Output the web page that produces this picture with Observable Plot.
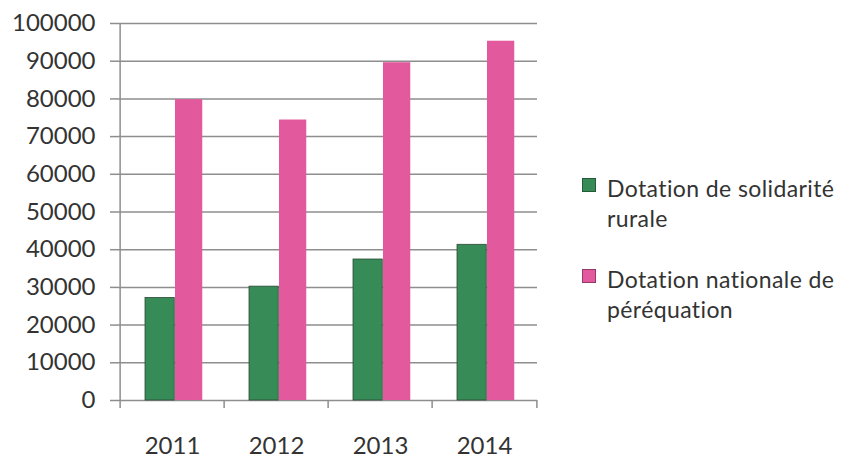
<!DOCTYPE html>
<html><head><meta charset="utf-8">
<script src="https://cdn.jsdelivr.net/npm/d3@7"></script>
<script src="https://cdn.jsdelivr.net/npm/@observablehq/plot@0.6"></script>
<style>
body{margin:0;background:#fff;}
#wrap{position:relative;width:847px;height:459px;font-family:Lato,sans-serif;color:#333;font-variant-ligatures:none;}
#wrap svg{position:absolute;left:0;top:0;font-variant-ligatures:none;}
#legend{position:absolute;left:582px;top:173px;}
.item{display:flex;align-items:flex-start;margin-bottom:31px;}
.sw{width:14px;height:14px;margin-top:5px;margin-right:11px;box-sizing:border-box;border:1px solid rgba(0,0,0,0.35);}
.lab{font-size:23px;line-height:30px;letter-spacing:0.4px;width:250px;color:#333;}
</style></head><body><div id="wrap"><div id="legend"></div></div>
<script>
const years = ["2011", "2012", "2013", "2014"];
const series = ["Dotation de solidarité rurale", "Dotation nationale de péréquation"];
const legendLabels = ["Dotation de solidarité<br>rurale", "Dotation nationale de<br>péréquation"];
const solidarite = [27200, 30200, 37400, 41300];
const perequation = [79800, 74400, 89600, 95300];
const colors = ["#368b56", "#e25a9d"];
const yTicks = [0, 10000, 20000, 30000, 40000, 50000, 60000, 70000, 80000, 90000, 100000];

const rows = years.flatMap((y, i) => [
  {year: y, series: series[0], value: solidarite[i]},
  {year: y, series: series[1], value: perequation[i]}
]);

const W = 847, H = 459, mL = 118, mR = 310, mT = 23, mB = 59;
const bw = (W - mL - mR) / years.length;
const grid = "#8e8e8e";

const chart = Plot.plot({
  width: W, height: H,
  marginLeft: mL, marginRight: mR, marginTop: mT, marginBottom: mB,
  style: {fontFamily: "Lato, sans-serif", color: "#333", background: "transparent", overflow: "visible"},
  x: {domain: years, padding: 0, axis: null, label: null},
  y: {domain: [0, 100000], axis: null, label: null},
  color: {domain: series, range: colors},
  marks: [
    Plot.gridY(yTicks, {stroke: grid, strokeOpacity: 1, strokeWidth: 1.5}),
    Plot.ruleX([years[0]], {dx: -bw / 2, stroke: grid, strokeWidth: 1.5}),
    Plot.axisY(yTicks, {tickSize: 8, tickPadding: 15, tickFormat: d3.format("d"), fontSize: 24, stroke: grid, strokeWidth: 1.5, label: null}),
    Plot.axisX(years, {tickSize: 8, dx: -bw / 2, tickFormat: () => "", stroke: grid, strokeWidth: 1.5, label: null}),
    Plot.axisX([years[years.length - 1]], {tickSize: 8, dx: bw / 2, tickFormat: () => "", stroke: grid, strokeWidth: 1.5, label: null}),
    Plot.axisX(years, {tickSize: 0, tickPadding: 36, fontSize: 24, label: null}),
    Plot.barY(rows.filter(d => d.series === series[0]), {x: "year", y: "value", fill: "series", stroke: "#2f4a38", strokeWidth: 0.8, insetLeft: 25, insetRight: bw - 55}),
    Plot.barY(rows.filter(d => d.series === series[1]), {x: "year", y: "value", fill: "series", insetLeft: 55, insetRight: bw - 83})
  ]
});
document.getElementById("wrap").prepend(chart);

const legend = document.getElementById("legend");
series.forEach((s, i) => {
  const item = document.createElement("div");
  item.className = "item";
  item.innerHTML = `<div class="sw" style="background:${colors[i]}"></div><div class="lab">${legendLabels[i]}</div>`;
  legend.appendChild(item);
});
</script>
</body></html>
